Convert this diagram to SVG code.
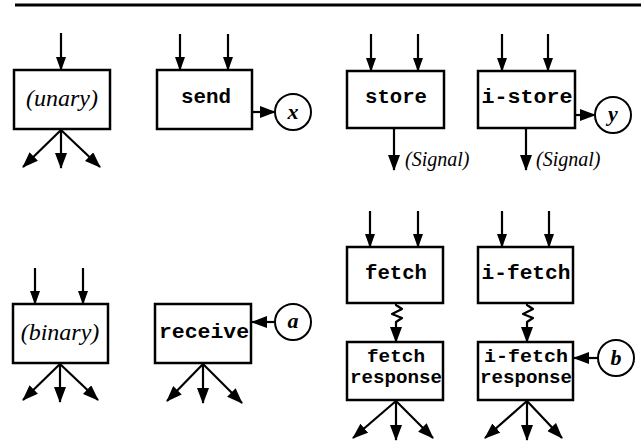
<svg xmlns="http://www.w3.org/2000/svg" width="641" height="445" viewBox="0 0 641 445">
<defs>
<marker id="ah" markerUnits="userSpaceOnUse" markerWidth="16" markerHeight="12" refX="15" refY="6" orient="auto">
<path d="M0,0 L16,6 L0,12 z" fill="#000"/>
</marker>
<marker id="ahs" markerUnits="userSpaceOnUse" markerWidth="14" markerHeight="10" refX="13" refY="5" orient="auto">
<path d="M0,0 L14,5 L0,10 z" fill="#000"/>
</marker>
<style>
.box{fill:#fff;stroke:#000;stroke-width:2.5}
.circ{fill:#fff;stroke:#000;stroke-width:2}
.ln{fill:none;stroke:#000;stroke-width:2.2;marker-end:url(#ah)}
.lns{fill:none;stroke:#000;stroke-width:2.2;marker-end:url(#ahs)}
.mono{font-family:"Liberation Mono","Courier New",monospace;font-weight:bold;font-size:20px;text-anchor:middle}
.mono2{font-family:"Liberation Mono","Courier New",monospace;font-weight:bold;font-size:18px;text-anchor:middle}
.it{font-family:"Liberation Serif","Times New Roman",serif;font-style:italic;font-size:24px;text-anchor:middle}
.sig{font-family:"Liberation Serif","Times New Roman",serif;font-style:italic;font-size:20px}
.var{font-family:"Liberation Serif","Times New Roman",serif;font-style:italic;font-weight:bold;font-size:22px;text-anchor:middle}
</style>
</defs>
<line x1="15" y1="5" x2="641" y2="5" stroke="#000" stroke-width="3"/>

<g id="unary">
<rect class="box" x="14" y="70" width="96" height="59"/>
<text class="it" x="62" y="106">(unary)</text>
</g>
<g id="send">
<rect class="box" x="157" y="70" width="95" height="59"/>
<text class="mono" x="206" y="103" textLength="50" lengthAdjust="spacingAndGlyphs">send</text>
</g>
<g id="x">
<circle class="circ" cx="293" cy="112" r="18"/>
<text class="var" x="293" y="119">x</text>
</g>
<g id="store">
<rect class="box" x="347" y="71" width="97" height="57"/>
<text class="mono" x="396" y="103" textLength="62" lengthAdjust="spacingAndGlyphs">store</text>
</g>
<g id="i-store">
<rect class="box" x="478" y="71" width="97" height="57"/>
<text class="mono" x="527" y="103" textLength="91" lengthAdjust="spacingAndGlyphs">i-store</text>
</g>
<g id="y">
<circle class="circ" cx="613" cy="115" r="18"/>
<text class="var" x="613" y="121">y</text>
</g>
<g id="signal1"><text class="sig" x="405" y="166">(Signal)</text></g>
<g id="signal2"><text class="sig" x="536" y="166">(Signal)</text></g>

<g id="binary">
<rect class="box" x="13" y="304" width="95" height="59"/>
<text class="it" x="60" y="340">(binary)</text>
</g>
<g id="receive">
<rect class="box" x="155" y="304" width="96" height="59"/>
<text class="mono" x="204" y="338" textLength="90" lengthAdjust="spacingAndGlyphs">receive</text>
</g>
<g id="a">
<circle class="circ" cx="293" cy="322" r="18"/>
<text class="var" x="293" y="328">a</text>
</g>
<g id="fetch">
<rect class="box" x="347" y="247" width="96" height="56"/>
<text class="mono" x="396" y="279" textLength="62" lengthAdjust="spacingAndGlyphs">fetch</text>
</g>
<g id="i-fetch">
<rect class="box" x="478" y="247" width="95" height="56"/>
<text class="mono" x="526" y="279" textLength="89" lengthAdjust="spacingAndGlyphs">i-fetch</text>
</g>
<g id="fetch-response">
<rect class="box" x="347" y="342" width="96" height="58"/>
<text class="mono2" x="396" y="362" textLength="58" lengthAdjust="spacingAndGlyphs">fetch</text>
<text class="mono2" x="396" y="383" textLength="92" lengthAdjust="spacingAndGlyphs">response</text>
</g>
<g id="i-fetch-response">
<rect class="box" x="478" y="342" width="95" height="58"/>
<text class="mono2" x="526" y="362" textLength="84" lengthAdjust="spacingAndGlyphs">i-fetch</text>
<text class="mono2" x="526" y="383" textLength="92" lengthAdjust="spacingAndGlyphs">response</text>
</g>
<g id="b">
<circle class="circ" cx="616" cy="358" r="18"/>
<text class="var" x="616" y="365">b</text>
</g>

<g id="connectors">
<!-- unary -->
<line class="lns" x1="61" y1="33" x2="61" y2="70"/>
<line class="ln" x1="61" y1="130" x2="23" y2="167"/>
<line class="ln" x1="61" y1="130" x2="61" y2="168"/>
<line class="ln" x1="61" y1="130" x2="100" y2="167"/>
<!-- send -->
<line class="lns" x1="180" y1="34" x2="180" y2="70"/>
<line class="lns" x1="228" y1="34" x2="228" y2="70"/>
<line class="ln" x1="253" y1="112" x2="275" y2="112"/>
<!-- store -->
<line class="lns" x1="371" y1="34" x2="371" y2="71"/>
<line class="lns" x1="418" y1="34" x2="418" y2="71"/>
<line class="ln" x1="394" y1="129" x2="394" y2="170"/>
<!-- i-store -->
<line class="lns" x1="502" y1="34" x2="502" y2="71"/>
<line class="lns" x1="548" y1="34" x2="548" y2="71"/>
<line class="ln" x1="526" y1="129" x2="526" y2="170"/>
<line class="ln" x1="576" y1="115" x2="595" y2="115"/>
<!-- binary -->
<line class="lns" x1="35" y1="268" x2="35" y2="304"/>
<line class="lns" x1="83" y1="268" x2="83" y2="304"/>
<line class="ln" x1="60" y1="364" x2="23" y2="400"/>
<line class="ln" x1="60" y1="364" x2="60" y2="402"/>
<line class="ln" x1="60" y1="364" x2="98" y2="400"/>
<!-- receive -->
<line class="ln" x1="275" y1="322" x2="252" y2="322"/>
<line class="ln" x1="203" y1="364" x2="167" y2="401"/>
<line class="ln" x1="203" y1="364" x2="203" y2="403"/>
<line class="ln" x1="203" y1="364" x2="242" y2="403"/>
<!-- fetch -->
<line class="lns" x1="370" y1="211" x2="370" y2="247"/>
<line class="lns" x1="418" y1="211" x2="418" y2="247"/>
<path class="ln" stroke-width="2.6" stroke-linejoin="round" d="M396,304 L396,305 L402,309 L392,314 L402,318 L396,322 L396,342"/>
<line class="ln" x1="396" y1="401" x2="353" y2="438"/>
<line class="ln" x1="396" y1="401" x2="396" y2="440"/>
<line class="ln" x1="396" y1="401" x2="433" y2="438"/>
<!-- i-fetch -->
<line class="lns" x1="502" y1="211" x2="502" y2="247"/>
<line class="lns" x1="549" y1="211" x2="549" y2="247"/>
<path class="ln" stroke-width="2.6" stroke-linejoin="round" d="M527,304 L527,305 L533,309 L523,314 L533,318 L527,322 L527,342"/>
<line class="ln" x1="598" y1="358" x2="574" y2="358"/>
<line class="ln" x1="527" y1="401" x2="485" y2="438"/>
<line class="ln" x1="527" y1="401" x2="527" y2="440"/>
<line class="ln" x1="527" y1="401" x2="562" y2="438"/>
</g>
</svg>
